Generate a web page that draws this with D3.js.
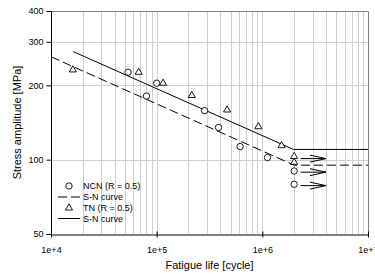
<!DOCTYPE html>
<html>
<head>
<meta charset="utf-8">
<script src="https://cdn.jsdelivr.net/npm/d3@7"></script>
<style>
  body { margin: 0; background: #fff; }
  text { font-family: "Liberation Sans", Arial, sans-serif; }
</style>
</head>
<body>
<script>
(function() {
    var w = 375;
    var h = 277;
    var left = 51, right = 368, top = 11, bottom = 234;

    // NCN (R = 0.5) - circles
    var ncnLife = [5.36e4, 8.0e4, 1.0e5, 2.84e5, 3.85e5, 6.16e5, 1.12e6, 2.0e6, 2.0e6];
    var ncnStress = [226, 181, 204, 158, 135, 113, 102, 90, 79.5];
    // TN (R = 0.5) - triangles
    var tnLife = [1.61e4, 6.76e4, 1.15e5, 2.15e5, 4.64e5, 9.17e5, 1.52e6, 2.0e6, 2.0e6];
    var tnStress = [231, 226, 204, 182, 159, 136, 114, 103, 97.6];
    // S-N curves
    var ncnCurveLife = [1e4, 2e6, 1e7];
    var ncnCurveStress = [261, 95, 95];
    var tnCurveLife = [1.62e4, 1.97e6, 1e7];
    var tnCurveStress = [274, 110, 110];
    // run-out arrows
    var arrowStress = [101, 89, 78.5];
    var arrowFrom = 2.3e6, arrowTo = 4.0e6;

    var yTicks = [50, 100, 200, 300, 400];
    var yGrid = [100, 200, 300];
    var xTicks = [1e4, 1e5, 1e6, 1e7];
    var xTickLabels = ["1e+4", "1e+5", "1e+6", "1e+7"];

    var svg = d3.select("body").append("svg")
        .attr("width", w)
        .attr("height", h);

    var x = d3.scaleLog().domain([1e4, 1e7]).range([left, right]);
    var y = d3.scaleLog().domain([50, 400]).range([bottom, top]);

    // vertical grid: every 1..9 x decade
    var xGrid = [];
    [1e4, 1e5, 1e6].forEach(function(d) {
        for (var k = 1; k <= 9; k++) { if (d * k > 1e4) xGrid.push(d * k); }
    });

    svg.append("g").selectAll("line")
        .data(xGrid)
        .enter()
        .append("line")
        .attr("x1", function(d) { return Math.round(x(d)) + 0.5; })
        .attr("x2", function(d) { return Math.round(x(d)) + 0.5; })
        .attr("y1", top)
        .attr("y2", bottom)
        .attr("stroke", "#cfcfcf")
        .attr("stroke-width", 1);

    svg.append("g").selectAll("line")
        .data(yGrid)
        .enter()
        .append("line")
        .attr("x1", left)
        .attr("x2", right)
        .attr("y1", function(d) { return Math.round(y(d)) + 0.5; })
        .attr("y2", function(d) { return Math.round(y(d)) + 0.5; })
        .attr("stroke", "#cfcfcf")
        .attr("stroke-width", 1);

    // top and right frame
    svg.append("path")
        .attr("d", "M" + left + "," + (top + 0.5) + "H" + (right + 0.5) + "V" + bottom)
        .attr("fill", "none")
        .attr("stroke", "#808080")
        .attr("stroke-width", 1);

    // axes
    var yAxis = d3.axisLeft(y)
        .tickValues(yTicks)
        .tickFormat(d3.format("d"))
        .tickSize(5)
        .tickPadding(3);
    var gy = svg.append("g")
        .attr("transform", "translate(" + (left + 0.5) + ",0)")
        .call(yAxis);
    gy.select(".domain").attr("d", "M0," + top + "V" + bottom);
    gy.selectAll("text").attr("font-size", 9).attr("font-family", "Liberation Sans, Arial, sans-serif");

    var xAxis = d3.axisBottom(x)
        .tickValues(xTicks)
        .tickFormat(function(d, i) { return xTickLabels[i]; })
        .tickSizeInner(3)
        .tickSizeOuter(0)
        .tickPadding(9);
    var gx = svg.append("g")
        .attr("transform", "translate(0," + (bottom + 0.5) + ")")
        .call(xAxis);
    gx.selectAll(".tick line").attr("y1", -3);
    gx.selectAll("text").attr("font-size", 9).attr("font-family", "Liberation Sans, Arial, sans-serif");

    // axis titles
    svg.append("text")
        .text("Stress amplitude [MPa]")
        .attr("transform", "translate(21," + ((top + bottom) / 2) + ") rotate(-90)")
        .attr("text-anchor", "middle")
        .attr("font-size", 11);
    svg.append("text")
        .text("Fatigue life [cycle]")
        .attr("x", (left + right) / 2)
        .attr("y", 269)
        .attr("text-anchor", "middle")
        .attr("font-size", 11);

    // S-N curves
    var line = d3.line()
        .x(function(d) { return x(d[0]); })
        .y(function(d) { return y(d[1]); });

    svg.append("path")
        .datum(d3.zip(ncnCurveLife, ncnCurveStress))
        .attr("d", line)
        .attr("fill", "none")
        .attr("stroke", "#000")
        .attr("stroke-width", 1)
        .attr("stroke-dasharray", "9,4");

    svg.append("path")
        .datum(d3.zip(tnCurveLife, tnCurveStress))
        .attr("d", line)
        .attr("fill", "none")
        .attr("stroke", "#000")
        .attr("stroke-width", 1);

    // run-out arrows
    var arrows = svg.append("g").selectAll("g")
        .data(arrowStress)
        .enter()
        .append("g");
    arrows.append("line")
        .attr("x1", x(arrowFrom))
        .attr("x2", x(arrowTo))
        .attr("y1", function(d) { return y(d); })
        .attr("y2", function(d) { return y(d); })
        .attr("stroke", "#000");
    arrows.append("path")
        .attr("d", function(d) {
            var tx = x(arrowTo), ty = y(d);
            return "M" + (tx - 16) + "," + (ty - 3.5) + "L" + tx + "," + ty + "L" + (tx - 16) + "," + (ty + 3.5);
        })
        .attr("fill", "none")
        .attr("stroke", "#000");

    // markers
    svg.append("g").selectAll("circle")
        .data(d3.zip(ncnLife, ncnStress))
        .enter()
        .append("circle")
        .attr("cx", function(d) { return x(d[0]); })
        .attr("cy", function(d) { return y(d[1]); })
        .attr("r", 3.2)
        .attr("fill", "#fff")
        .attr("stroke", "#000")
        .attr("stroke-width", 0.9);

    var tri = d3.symbol().type(d3.symbolTriangle).size(22);
    svg.append("g").selectAll("path")
        .data(d3.zip(tnLife, tnStress))
        .enter()
        .append("path")
        .attr("d", tri)
        .attr("transform", function(d) { return "translate(" + x(d[0]) + "," + y(d[1]) + ")"; })
        .attr("fill", "#fff")
        .attr("stroke", "#000")
        .attr("stroke-width", 0.9);

    // legend
    var legend = svg.append("g").attr("transform", "translate(0,0)");
    var rows = [186, 197, 208, 218.5];
    var labels = ["NCN (R = 0.5)", "S-N curve", "TN (R = 0.5)", "S-N curve"];
    legend.selectAll("text")
        .data(labels)
        .enter()
        .append("text")
        .text(function(d) { return d; })
        .attr("x", 83)
        .attr("y", function(d, i) { return rows[i] + 3; })
        .attr("font-size", 9);
    legend.append("circle")
        .attr("cx", 69).attr("cy", rows[0]).attr("r", 3.2)
        .attr("fill", "#fff").attr("stroke", "#000").attr("stroke-width", 0.9);
    legend.append("line")
        .attr("x1", 58).attr("x2", 80).attr("y1", rows[1]).attr("y2", rows[1])
        .attr("stroke", "#000").attr("stroke-dasharray", "9,4");
    legend.append("path")
        .attr("d", tri)
        .attr("transform", "translate(69," + rows[2] + ")")
        .attr("fill", "#fff").attr("stroke", "#000").attr("stroke-width", 0.9);
    legend.append("line")
        .attr("x1", 58).attr("x2", 80).attr("y1", rows[3]).attr("y2", rows[3])
        .attr("stroke", "#000");
})();
</script>
</body>
</html>
